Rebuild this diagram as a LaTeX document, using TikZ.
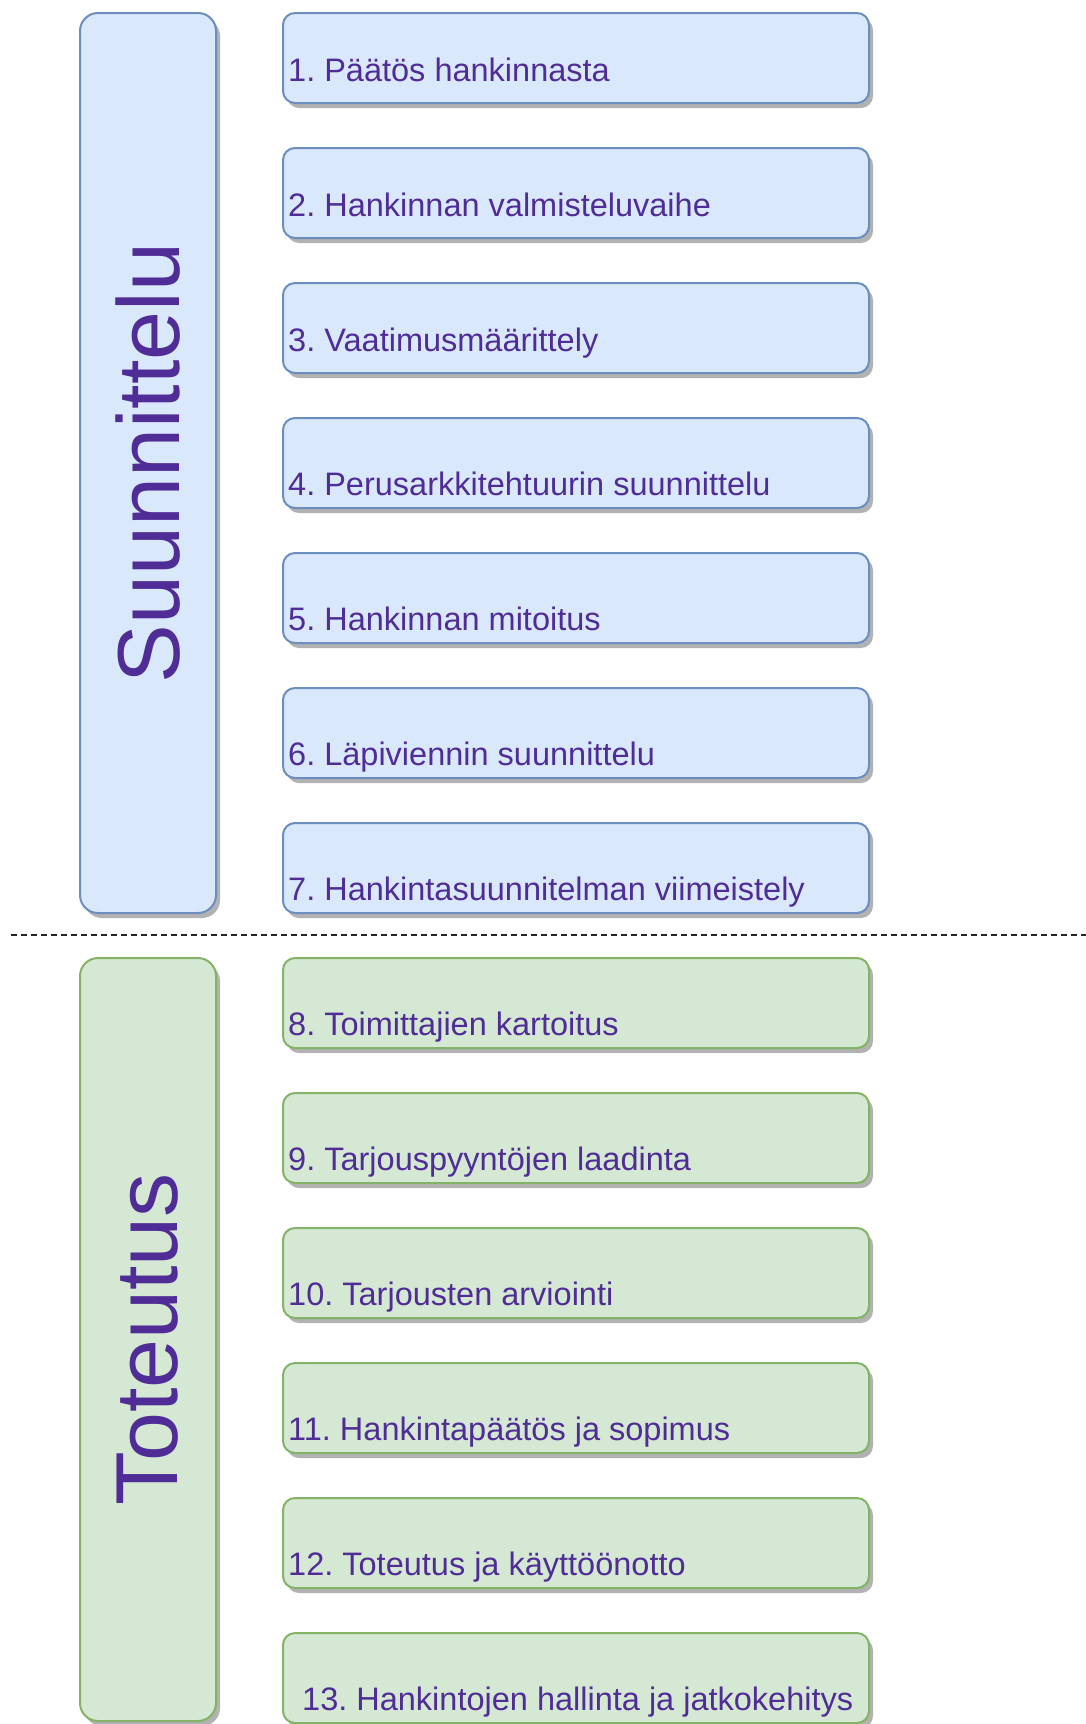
\documentclass[tikz,border=0pt]{standalone}
\usepackage{fontspec}
\setmainfont{Liberation Sans}
\frenchspacing
\usetikzlibrary{shadows}

\definecolor{planfill}{HTML}{DAE8FC}
\definecolor{plandraw}{HTML}{6C8EBF}
\definecolor{dofill}{HTML}{D5E8D4}
\definecolor{dodraw}{HTML}{82B366}
\definecolor{labelcol}{RGB}{80,45,150}

\tikzset{
  phasebox/.style = {draw, line width=2pt, rounded corners=18pt, anchor=north west,
    minimum width=136pt, drop shadow={shadow xshift=4pt, shadow yshift=-5pt, fill=black!30, opacity=1}},
  stepbox/.style = {draw, line width=2pt, rounded corners=12pt, anchor=north west,
    minimum width=586pt, minimum height=90pt,
    drop shadow={shadow xshift=4pt, shadow yshift=-5pt, fill=black!30, opacity=1}},
  steptext/.style = {anchor=base west, inner sep=0pt, text=labelcol,
    font=\fontsize{32.5}{38}\selectfont},
  phasetext/.style = {rotate=90, inner sep=0pt, text=labelcol,
    font=\fontsize{88}{100}\selectfont}
}

\begin{document}
\begin{tikzpicture}[x=1pt, y=1pt]
\useasboundingbox (0,0) rectangle (1086,-1724);

% phases
\node[phasebox, fill=planfill, draw=plandraw, minimum height=900pt] (plan) at (79,-12) {};
\node[phasebox, fill=dofill, draw=dodraw, minimum height=763pt] (do) at (79,-957) {};
\node[phasetext] (plantext) at (plan.center) {Suunnittelu};
\node[phasetext] (dotext) at (do.center) {Toteutus};

% divider
\coordinate (divl) at (11,-935);
\coordinate (divr) at (1086,-935);
\draw[line width=2.2pt, black!85, dash pattern=on 5.5pt off 4.5pt] (divl) -- (divr);

% planning steps
\begin{scope}
\node[stepbox, fill=planfill, draw=plandraw] (s1) at (282,-12) {};
\node[stepbox, fill=planfill, draw=plandraw] (s2) at (282,-147) {};
\node[stepbox, fill=planfill, draw=plandraw] (s3) at (282,-282) {};
\node[stepbox, fill=planfill, draw=plandraw] (s4) at (282,-417) {};
\node[stepbox, fill=planfill, draw=plandraw] (s5) at (282,-552) {};
\node[stepbox, fill=planfill, draw=plandraw] (s6) at (282,-687) {};
\node[stepbox, fill=planfill, draw=plandraw] (s7) at (282,-822) {};
\end{scope}
\node[steptext] (t1) at (288,-81) {1. Päätös hankinnasta};
\node[steptext] (t2) at (288,-216) {2. Hankinnan valmisteluvaihe};
\node[steptext] (t3) at (288,-351) {3. Vaatimusmäärittely};
\node[steptext] (t4) at (288,-495) {4. Perusarkkitehtuurin suunnittelu};
\node[steptext] (t5) at (288,-630) {5. Hankinnan mitoitus};
\node[steptext] (t6) at (288,-765) {6. Läpiviennin suunnittelu};
\node[steptext] (t7) at (288,-900) {7. Hankintasuunnitelman viimeistely};

% implementation steps
\begin{scope}
\node[stepbox, fill=dofill, draw=dodraw] (s8) at (282,-957) {};
\node[stepbox, fill=dofill, draw=dodraw] (s9) at (282,-1092) {};
\node[stepbox, fill=dofill, draw=dodraw] (s10) at (282,-1227) {};
\node[stepbox, fill=dofill, draw=dodraw] (s11) at (282,-1362) {};
\node[stepbox, fill=dofill, draw=dodraw] (s12) at (282,-1497) {};
\node[stepbox, fill=dofill, draw=dodraw] (s13) at (282,-1632) {};
\end{scope}
\node[steptext] (t8) at (288,-1035) {8. Toimittajien kartoitus};
\node[steptext] (t9) at (288,-1170) {9. Tarjouspyyntöjen laadinta};
\node[steptext] (t10) at (288,-1305) {10. Tarjousten arviointi};
\node[steptext] (t11) at (288,-1440) {11. Hankintapäätös ja sopimus};
\node[steptext] (t12) at (288,-1575) {12. Toteutus ja käyttöönotto};
\node[steptext] (t13) at (302,-1710) {13. Hankintojen hallinta ja jatkokehitys};
\end{tikzpicture}
\end{document}
